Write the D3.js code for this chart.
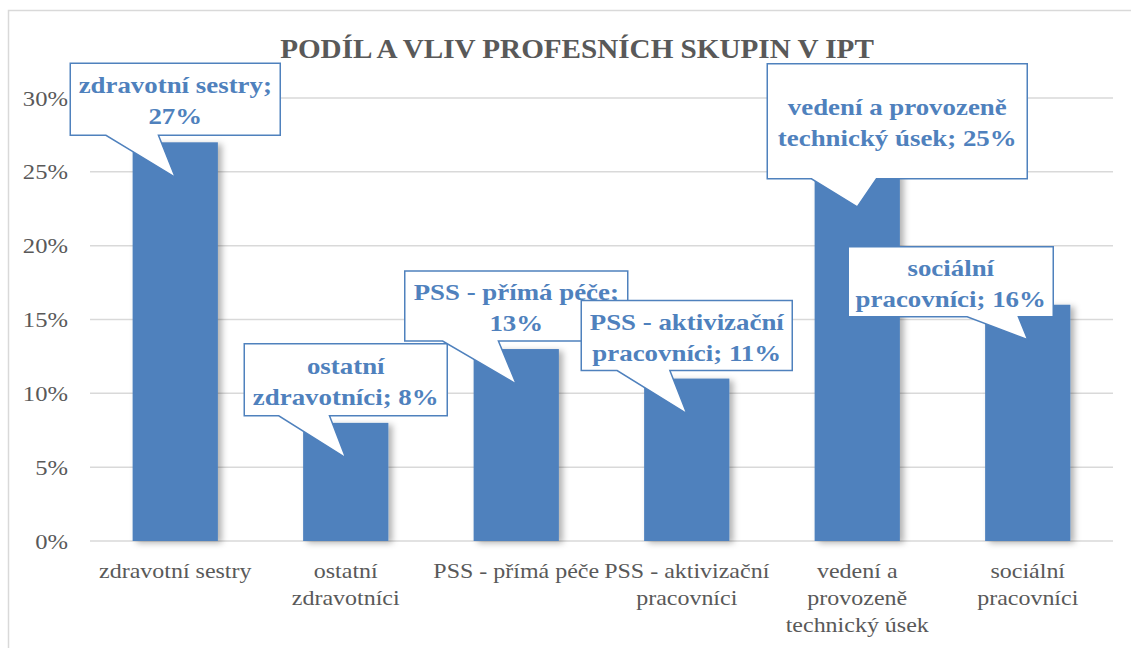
<!DOCTYPE html>
<html>
<head>
<meta charset="utf-8">
<script src="https://cdn.jsdelivr.net/npm/d3@7"></script>
<style>
  body { margin: 0; background: #fff; }
</style>
</head>
<body>
<div id="container"></div>
<script>
// data
const title = 'PODÍL A VLIV PROFESNÍCH SKUPIN V IPT';
const categories = ['zdravotní sestry', 'ostatní zdravotníci', 'PSS - přímá péče',
  'PSS - aktivizační pracovníci', 'vedení a provozeně technický úsek', 'sociální pracovníci'];
const values = [27, 8, 13, 11, 25, 16];
const yTicks = [0, 5, 10, 15, 20, 25, 30];
const tickLabelLines = [
  ['zdravotní sestry'],
  ['ostatní', 'zdravotníci'],
  ['PSS - přímá péče'],
  ['PSS - aktivizační', 'pracovníci'],
  ['vedení a', 'provozeně', 'technický úsek'],
  ['sociální', 'pracovníci']
];
// how many words of the callout text go on its first line
const calloutFirstLine = [2, 1, 4, 3, 3, 1];

// callout box layout (offset from bar center / bar top)
const calloutBox = [
  {dx: 0, dy: -7, w: 210, h: 72},
  {dx: 0, dy: -7, w: 203, h: 72},
  {dx: 0, dy: -8, w: 223, h: 70},
  {dx: 0, dy: -8, w: 211, h: 70},
  {dx: 40, dy: 7, w: 260, h: 115},
  {dx: -77, dy: 12, w: 205, h: 70}
];

let w = 1131;
let h = 648;
let blue = '#4f81bd';
let grey = '#595959';
let font = '"Liberation Serif"';
let stretch = 'scale(1.12,1)';

let viz = d3.select('#container')
  .append('svg')
    .attr('width', w)
    .attr('height', h)
    .style('display', 'block');

let defs = viz.append('defs');
defs.append('filter')
    .attr('id', 'shadow')
    .attr('x', '-20%').attr('y', '-10%')
    .attr('width', '150%').attr('height', '130%')
  .append('feDropShadow')
    .attr('dx', 4).attr('dy', 2)
    .attr('stdDeviation', 3)
    .attr('flood-color', '#000')
    .attr('flood-opacity', 0.3);

// chart frame
viz.append('rect')
  .attr('x', 8.5).attr('y', 10.5)
  .attr('width', 1200).attr('height', 700)
  .attr('fill', 'none')
  .attr('stroke', '#d9d9d9')
  .attr('stroke-width', 1.5);

viz.append('text')
  .attr('transform', 'translate(577,58) scale(1.1,1)')
  .attr('text-anchor', 'middle')
  .style('font-family', font)
  .style('font-size', '26.5px')
  .style('font-weight', 'bold')
  .attr('fill', grey)
  .text(title);

let xScale = d3.scaleBand().domain(categories).range([90, 1113]).paddingInner(0.5).paddingOuter(0.25);
let yScale = d3.scaleLinear().domain([0, 30]).range([541, 98]);

// gridlines
viz.append('g')
  .selectAll('line')
  .data(yTicks)
  .join('line')
    .attr('x1', 90).attr('x2', 1113)
    .attr('y1', d => yScale(d)).attr('y2', d => yScale(d))
    .attr('stroke', '#d9d9d9')
    .attr('stroke-width', 1.5);

// y axis labels
let yAxis = d3.axisLeft(yScale).tickValues(yTicks).tickFormat(d => d + '%').tickSize(0).tickPadding(0);
let yAxisGroup = viz.append('g').attr('transform', 'translate(68, 0)').call(yAxis);
yAxisGroup.select('.domain').remove();
yAxisGroup.selectAll('text')
  .attr('x', 0)
  .attr('transform', stretch)
  .style('font-family', font)
  .style('font-size', '22px')
  .attr('fill', grey);

// bars
viz.append('g')
  .selectAll('rect')
  .data(values)
  .join('rect')
    .attr('x', (d, i) => xScale(categories[i]))
    .attr('y', d => yScale(d))
    .attr('width', xScale.bandwidth())
    .attr('height', d => yScale(0) - yScale(d))
    .attr('fill', blue)
    .attr('filter', 'url(#shadow)');

// category labels
let xLabels = viz.append('g')
  .selectAll('text')
  .data(categories)
  .join('text')
    .attr('transform', d => 'translate(' + (xScale(d) + xScale.bandwidth() / 2) + ',' + (yScale(0) + 37) + ') scale(1.09,1)')
    .attr('text-anchor', 'middle')
    .style('font-family', font)
    .style('font-size', '22px')
    .attr('fill', grey);
xLabels.each(function(d, i){
  d3.select(this).selectAll('tspan')
    .data(tickLabelLines[i])
    .join('tspan')
      .attr('x', 0)
      .attr('y', (t, j) => j * 27)
      .text(t => t);
});

// callouts
let callouts = viz.append('g')
  .selectAll('g')
  .data(values)
  .join('g');

callouts.each(function(v, i){
  let g = d3.select(this);
  let box = calloutBox[i];
  let xc = xScale(categories[i]) + xScale.bandwidth() / 2;
  let top = yScale(v);
  let cx = xc + box.dx;
  let B = top + box.dy;
  let T = B - box.h;
  let L = cx - box.w / 2;
  let R = cx + box.w / 2;
  let tx = xc;
  let ty = top + 35;
  let b1, b2;
  if(tx <= cx + 1){
    b1 = L + 0.17 * box.w;
    b2 = L + 0.42 * box.w;
  }else{
    b1 = L + 0.58 * box.w;
    b2 = L + 0.83 * box.w;
  }
  let path = d3.path();
  path.moveTo(L, T);
  path.lineTo(R, T);
  path.lineTo(R, B);
  path.lineTo(b2, B);
  path.lineTo(tx, ty);
  path.lineTo(b1, B);
  path.lineTo(L, B);
  path.closePath();
  g.append('path')
    .attr('d', path.toString())
    .attr('fill', '#fff')
    .attr('stroke', blue)
    .attr('stroke-width', 1.5);

  let words = (categories[i] + '; ' + v + '%').split(' ');
  let lines = [words.slice(0, calloutFirstLine[i]).join(' '), words.slice(calloutFirstLine[i]).join(' ')];
  let cy = (T + B) / 2;
  g.append('text')
    .attr('transform', 'translate(' + cx + ',' + (cy - 6) + ') ' + stretch)
    .attr('text-anchor', 'middle')
    .style('font-family', font)
    .style('font-size', '24px')
    .style('font-weight', 'bold')
    .attr('fill', blue)
    .selectAll('tspan')
    .data(lines)
    .join('tspan')
      .attr('x', 0)
      .attr('y', (t, j) => j * 31)
      .text(t => t);
});
</script>
</body>
</html>
